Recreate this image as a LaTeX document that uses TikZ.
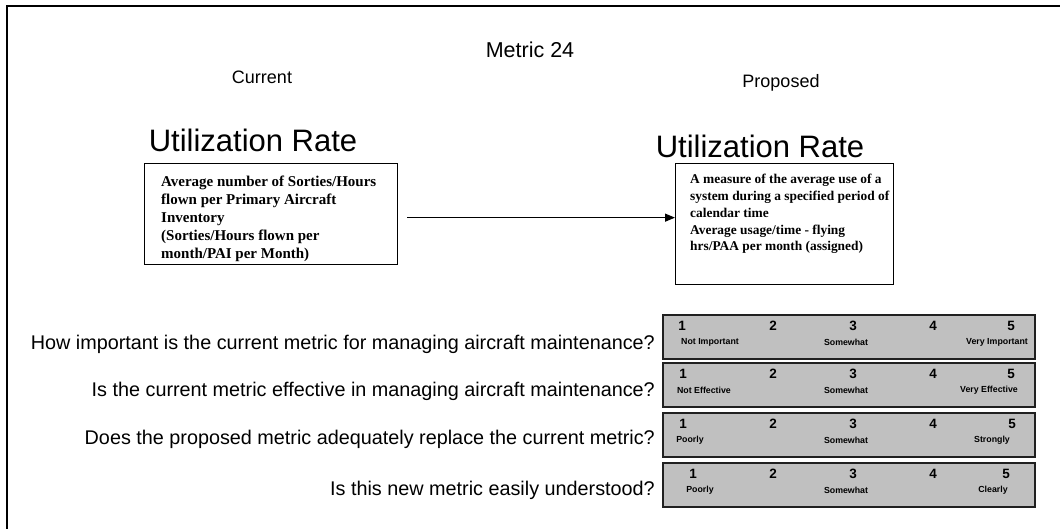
\documentclass[tikz,border=0pt]{standalone}
\usepackage{fontspec}
\setmainfont{Liberation Serif}
\newfontfamily\arialf{Liberation Sans}
\usetikzlibrary{arrows.meta}
\definecolor{rategray}{HTML}{C0C0C0}
\definecolor{rateedge}{HTML}{202020}
\begin{document}
\begin{tikzpicture}[x=1pt,y=-1pt,
  heading/.style={font=\arialf\fontsize{18}{20}\selectfont, inner sep=0},
  bigtitle/.style={font=\arialf\fontsize{31}{34}\selectfont, inner sep=0},
  defbox/.style={draw, line width=1.3pt, anchor=north west, inner sep=0},
  deftext/.style={font=\bfseries\fontsize{15}{18}\selectfont, align=left, anchor=north west, inner sep=0},
  question/.style={font=\arialf\fontsize{19.8}{22}\selectfont, anchor=east, inner sep=0},
  ratebox/.style={draw=rateedge, fill=rategray, line width=1.8pt, minimum width=372pt, minimum height=44pt, anchor=north west, inner sep=0},
  num/.style={font=\arialf\bfseries\fontsize{13.5}{15}\selectfont, inner sep=0},
  lab/.style={font=\arialf\bfseries\fontsize{8.8}{10}\selectfont, inner sep=0}]
\useasboundingbox (0,0) rectangle (1060,529);
% frame along the left and top edges
\draw[line width=2pt] (7,529) -- (7,6) -- (1060,6);

% headings
\node[heading, font=\arialf\fontsize{21.5}{24}\selectfont] (title) at (530,50) {Metric 24};
\node[heading] (cur) at (262,77) {Current};
\node[heading] (prop) at (781,83) {Proposed};
\node[bigtitle] (lname) at (253,140) {Utilization Rate};
\node[bigtitle] (rname) at (760,146) {Utilization Rate};

% definition boxes
\node[defbox, minimum width=253pt, minimum height=101pt] (lbox) at (144,163) {};
\node[deftext] (ltext) at (161,176) {Average number of Sorties/Hours\\flown per Primary Aircraft\\Inventory\\(Sorties/Hours flown per\\month/PAI per Month)};
\node[defbox, minimum width=218pt, minimum height=121pt] (rbox) at (675,163) {};
\node[deftext, font=\bfseries\fontsize{13.4}{16.8}\selectfont] (rtext) at (690,174) {A measure of the average use of a\\system during a specified period of\\calendar time\\Average usage/time - flying\\hrs/PAA per month (assigned)};

\draw[line width=1.2pt, -{Triangle[length=10pt,width=8pt]}]
  ([xshift=9pt,yshift=-3.5pt]lbox.east) -- ([yshift=-3.5pt]lbox.east -| rbox.west);

% rating scales
\foreach \i/\top/\qy/\q/\xa/\xe/\la/\lc/\tb/\tc in {
  1/314/344/{How important is the current metric for managing aircraft maintenance?}/682/1011/710/997/{Not Important}/{Very Important},
  2/362/391/{Is the current metric effective in managing aircraft maintenance?}/683/1011/704/989/{Not Effective}/{Very Effective},
  3/412/439/{Does the proposed metric adequately replace the current metric?}/683/1012/690/992/{Poorly}/{Strongly},
  4/462/490/{Is this new metric easily understood?}/693/1006/700/993/{Poorly}/{Clearly}}
{
  \node[ratebox] (s\i) at (662,\top) {};
  \node[question] (q\i) at (655,\qy) {\q};
  \node[num] (s\i-n1) at (\xa,\top+12) {1};
  \node[num] (s\i-n2) at (773,\top+12) {2};
  \node[num] (s\i-n3) at (853,\top+12) {3};
  \node[num] (s\i-n4) at (933,\top+12) {4};
  \node[num] (s\i-n5) at (\xe,\top+12) {5};
  \node[lab] (s\i-l1) at (\la,\top+28) {\tb};
  \node[lab] (s\i-l3) at (846,\top+28) {Somewhat};
  \node[lab] (s\i-l5) at (\lc,\top+28) {\tc};
}
\end{tikzpicture}
\end{document}
